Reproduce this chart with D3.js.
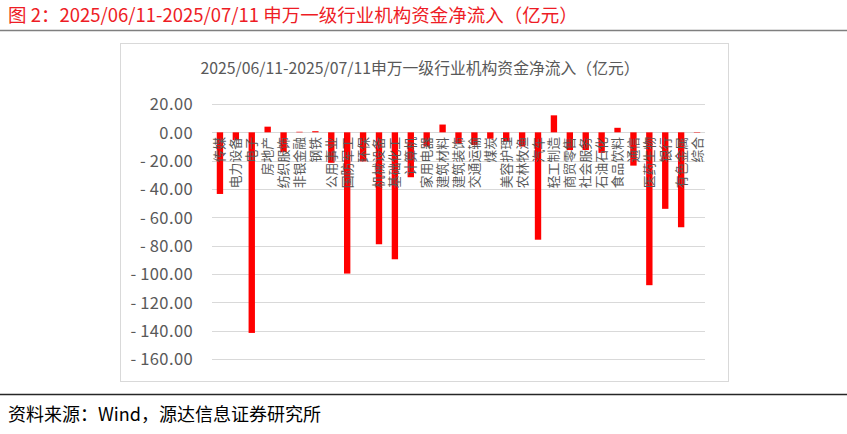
<!DOCTYPE html>
<html>
<head>
<meta charset="utf-8">
<script src="https://cdn.jsdelivr.net/npm/d3@7"></script>
<style>
  html, body { margin: 0; padding: 0; background: #fff; }
  svg { display: block; }
</style>
</head>
<body>
<svg id="chart" width="847" height="434"></svg>
<script>
const categories = ["传媒","电力设备","电子","房地产","纺织服饰","非银金融","钢铁","公用事业","国防军工","环保","机械设备","基础化工","计算机","家用电器","建筑材料","建筑装饰","交通运输","煤炭","美容护理","农林牧渔","汽车","轻工制造","商贸零售","社会服务","石油石化","食品饮料","通信","医药生物","银行","有色金属","综合"];
const values = [-43.5,-5.5,-141.6,4.0,-14,0.4,0.8,-21.5,-99.7,-20.5,-79.0,-89.6,-31.7,-10,5.5,-8,-9,-4.5,-6.5,-10,-75.8,12,-12.5,-12.5,-14.5,3.2,-23.5,-107.9,-54,-67,-0.3];
const yTicks = [20,0,-20,-40,-60,-80,-100,-120,-140,-160];
const mainTitle = "图 2：2025/06/11-2025/07/11 申万一级行业机构资金净流入（亿元）";
const chartTitle = "2025/06/11-2025/07/11申万一级行业机构资金净流入（亿元）";
const sourceText = "资料来源：Wind，源达信息证券研究所";

const svg = d3.select("#chart");
const font = "'Noto Sans CJK SC', 'Noto Sans', sans-serif";

// Main title
svg.append("text").attr("x", 8).attr("y", 22)
  .attr("font-family", font).attr("font-size", 18.5).attr("fill", "#ee1c25")
  .text(mainTitle);
svg.append("line").attr("x1", 0).attr("x2", 847).attr("y1", 30.5).attr("y2", 30.5)
  .attr("stroke", "#7f7f7f").attr("stroke-width", 1.5);

// Frame
svg.append("rect").attr("x", 120.5).attr("y", 43.5).attr("width", 608).attr("height", 338)
  .attr("fill", "#fff").attr("stroke", "#d9d9d9").attr("stroke-width", 1);

svg.append("text").attr("x", 420).attr("y", 74).attr("text-anchor", "middle")
  .attr("font-family", font).attr("font-size", 15.8).attr("fill", "#595959")
  .text(chartTitle);

const x = d3.scaleBand().domain(categories).range([212, 705]).paddingInner(0.6).paddingOuter(0.3);
const y = d3.scaleLinear().domain([-160, 20]).range([359, 104]);

// Gridlines
svg.append("g").selectAll("line").data(yTicks).join("line")
  .attr("x1", 212).attr("x2", 705)
  .attr("y1", d => Math.round(y(d)) + 0.5).attr("y2", d => Math.round(y(d)) + 0.5)
  .attr("stroke", "#d9d9d9").attr("stroke-width", 1);

// Y axis labels
const fmt = d3.format(".2f");
const yAxis = d3.axisLeft(y).tickValues(yTicks).tickSize(0).tickPadding(0)
  .tickFormat(d => d < 0 ? "-\u2009" + fmt(-d) : fmt(d));
const gy = svg.append("g").attr("transform", "translate(193,0)").call(yAxis);
gy.select(".domain").remove();
gy.selectAll("text").attr("font-family", font).attr("font-size", 16.5).attr("fill", "#595959")
  .attr("letter-spacing", 0.4).attr("dy", "0.35em");

// Bars
svg.append("g").selectAll("rect").data(values).join("rect")
  .attr("x", (d, i) => x(categories[i]))
  .attr("width", x.bandwidth())
  .attr("y", d => y(Math.max(0, d)))
  .attr("height", d => Math.abs(y(d) - y(0)))
  .attr("fill", "#ff0000");

// Category labels (rotated -90, anchored at top)
svg.append("g").selectAll("text").data(categories).join("text")
  .attr("font-family", font).attr("font-size", 12.8).attr("fill", "#595959")
  .attr("text-anchor", "end")
  .attr("transform", d => `translate(${x(d) + x.bandwidth() / 2 + 4.5},137) rotate(-90)`)
  .text(d => d);

// Bottom rule and source
svg.append("line").attr("x1", 0).attr("x2", 847).attr("y1", 394.5).attr("y2", 394.5)
  .attr("stroke", "#262626").attr("stroke-width", 1.5);
svg.append("text").attr("x", 8).attr("y", 421)
  .attr("font-family", font).attr("font-size", 18).attr("fill", "#000")
  .text(sourceText);
</script>
</body>
</html>
